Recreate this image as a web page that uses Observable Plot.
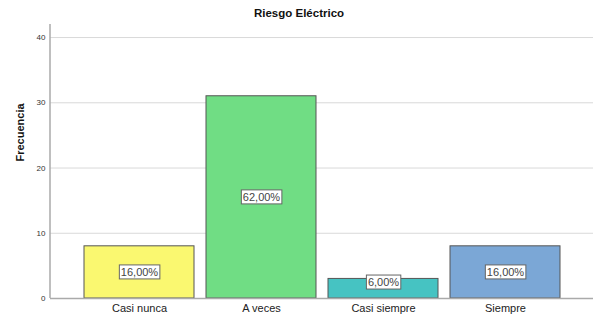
<!DOCTYPE html>
<html><head><meta charset="utf-8">
<script src="https://cdn.jsdelivr.net/npm/d3@7"></script>
<script src="https://cdn.jsdelivr.net/npm/@observablehq/plot@0.6"></script>
<style>
body{margin:0;background:#fff;font-family:"Liberation Sans",Arial,sans-serif;}
#wrap{position:relative;width:598px;height:318px;}
#title{position:absolute;top:7px;left:0;width:598px;text-align:center;font-weight:bold;font-size:11.5px;color:#111;}
</style></head>
<body><div id="wrap"><div id="title">Riesgo Eléctrico</div><div id="chart"></div></div>
<script>
const categories = ["Casi nunca", "A veces", "Casi siempre", "Siempre"];
const counts = [8, 31, 3, 8];
const percentLabels = ["16,00%", "62,00%", "6,00%", "16,00%"];
const colors = ["#FAF870", "#70DD84", "#46C3C2", "#7BA7D6"];
const yTicks = [0, 10, 20, 30, 40];

const data = categories.map((c, i) => ({cat: c, n: counts[i], lab: percentLabels[i], col: colors[i]}));

const chart = Plot.plot({
  width: 598, height: 318,
  marginLeft: 50, marginRight: 5, marginTop: 24, marginBottom: 20,
  style: {fontFamily: "Liberation Sans, Arial, sans-serif", background: "white"},
  x: {domain: categories, paddingInner: 0.1, paddingOuter: 0.27, label: null},
  y: {domain: [0, 42], label: null},
  marks: [
    Plot.gridY(yTicks, {stroke: "#d9d9d9", strokeOpacity: 1}),
    Plot.barY(data, {x: "cat", y: "n", fill: "col", stroke: "#555", strokeWidth: 1}),
    Plot.ruleY([0], {stroke: "#aaa", strokeWidth: 1.5}),
    Plot.axisY({ticks: yTicks, tickSize: 0, tickPadding: 5, fontSize: 8, fill: "#333", label: null}),
    Plot.axisX({tickSize: 0, tickPadding: 6, fontSize: 11, fill: "#222", label: null}),
    Plot.text(data, {x: "cat", y: d => Math.max(d.n / 2, 2.45), text: "lab", fontSize: 11, fill: "#444", className: "lbl"}),
    Plot.text(["Frecuencia"], {frameAnchor: "left", dx: -30, rotate: -90, fontSize: 11, fontWeight: "bold", fill: "#111"})
  ]
});
document.getElementById("chart").appendChild(chart);
const svg = d3.select(chart);
svg.append("line").attr("x1", 50).attr("x2", 50).attr("y1", 24).attr("y2", 298).attr("stroke", "#aaa").attr("stroke-width", 1.5);
svg.selectAll("g.lbl text").each(function() {
  const b = this.getBBox();
  const g = this.parentNode;
  const r = document.createElementNS("http://www.w3.org/2000/svg", "rect");
  r.setAttribute("x", b.x - 1.5); r.setAttribute("y", b.y - 1);
  r.setAttribute("width", b.width + 3); r.setAttribute("height", b.height + 2);
  r.setAttribute("fill", "white"); r.setAttribute("stroke", "#666"); r.setAttribute("stroke-width", 1);
  const t = this.getAttribute("transform");
  if (t) r.setAttribute("transform", t);
  g.insertBefore(r, this);
});
</script></body></html>
